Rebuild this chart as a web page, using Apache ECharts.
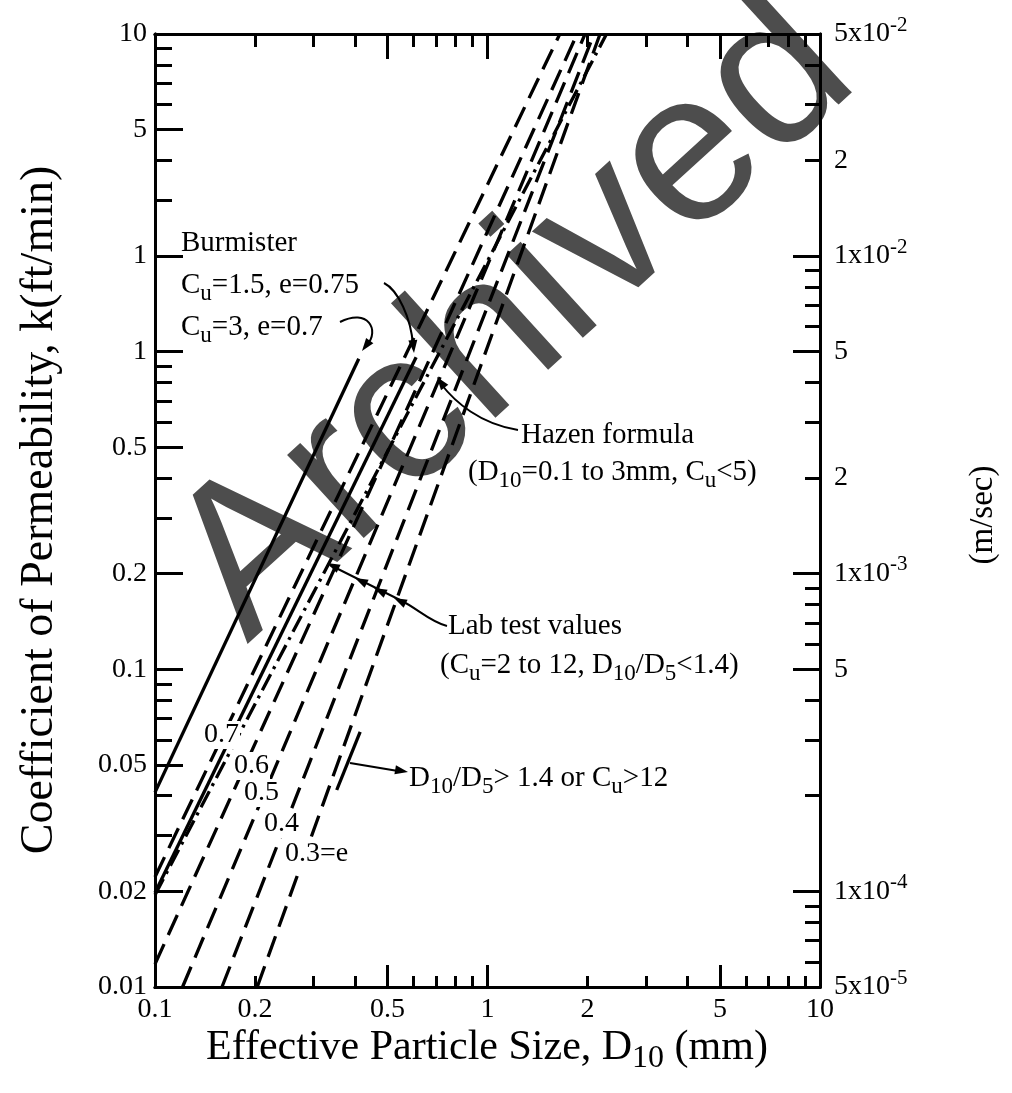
<!DOCTYPE html>
<html><head><meta charset="utf-8">
<script src="https://cdn.jsdelivr.net/npm/echarts@6/dist/echarts.min.js"></script>
<style>html,body{margin:0;padding:0;background:#fff}#c{width:1012px;height:1093px}</style>
</head><body><div id="c"></div>
<script>
// ---------- DATA ----------
const xTickValues = [0.1, 0.2, 0.5, 1, 2, 5, 10];
const xTickLabels = ['0.1', '0.2', '0.5', '1', '2', '5', '10'];
const xLongTicks = [0.5, 1, 5];
const xShortTicks = [0.2, 0.3, 0.4, 0.6, 0.7, 0.8, 0.9, 2, 3, 4, 6, 7, 8, 9];

const yTickValues = [0.01, 0.02, 0.05, 0.1, 0.2, 0.5, 1, 2, 5, 10];
const yTickLabels = ['0.01', '0.02', '0.05', '0.1', '0.2', '0.5', '1', '1', '5', '10'];
const yLongTicks = [0.02, 0.05, 0.1, 0.2, 0.5, 1, 2, 5];
const yShortTicks = [0.03, 0.04, 0.06, 0.07, 0.08, 0.09, 0.3, 0.4, 0.6, 0.7, 0.8, 0.9, 3, 4, 6, 7, 8, 9];

const rTickValues = [5e-5, 1e-4, 5e-4, 1e-3, 2e-3, 5e-3, 1e-2, 2e-2, 5e-2];
const rTickBase = ['5x10', '1x10', '5', '1x10', '2', '5', '1x10', '2', '5x10'];
const rTickExp = ['-5', '-4', '', '-3', '', '', '-2', '', '-2'];
const rLongTicks = [1e-4, 5e-4, 1e-3, 5e-3, 1e-2];
const rShortTicks = [6e-5, 7e-5, 8e-5, 9e-5, 2e-4, 3e-4, 4e-4, 6e-4, 7e-4, 8e-4, 9e-4,
  2e-3, 3e-3, 4e-3, 6e-3, 7e-3, 8e-3, 9e-3, 2e-2, 3e-2, 4e-2];

// lines: [D10 (mm), k (ft/min)]
const burmisterCu3 = [[0.1, 0.041], [0.41, 0.95]];
const burmisterCu15 = [[0.1, 0.0198], [0.61, 0.96]];
const hazen = [[0.1, 0.0195], [2.28, 10]];
const labE07 = [[0.1, 0.0222], [1.65, 10]];
const labE06 = [[0.1, 0.0118], [1.86, 10]];
const labE05 = [[0.121, 0.01], [1.965, 10]];
const labE04 = [[0.159, 0.01], [2.09, 10]];
const labE03 = [[0.203, 0.01], [2.18, 10]];
const d10d5Segment = [[0.352, 0.0417], [0.414, 0.0636]];

// ---------- CHART ----------
const SERIF = '"Liberation Serif", "DejaVu Serif", serif';
const chart = echarts.init(document.getElementById('c'), null, {renderer: 'canvas'});

function lookup(vals, labels) {
  return function (v) {
    for (let i = 0; i < vals.length; i++) {
      if (Math.abs(Math.log10(v) - Math.log10(vals[i])) < 1e-6) return labels[i];
    }
    return '';
  };
}
const xFmt = lookup(xTickValues, xTickLabels);
const yFmt = lookup(yTickValues, yTickLabels);
const rIdx = function (v) {
  for (let i = 0; i < rTickValues.length; i++) {
    if (Math.abs(Math.log10(v) - Math.log10(rTickValues[i])) < 1e-6) return i;
  }
  return -1;
};

function ax(kind, pos, ticks, len, extra) {
  const o = {
    type: 'log', logBase: 10, position: pos, gridIndex: 0,
    axisLine: {show: true, onZero: false, lineStyle: {color: '#000', width: 3}},
    axisTick: {show: true, inside: true, length: len, customValues: ticks, lineStyle: {color: '#000', width: 3}},
    axisLabel: {show: false},
    splitLine: {show: false},
    minorTick: {show: false},
    silent: true
  };
  if (kind === 'x') { o.min = 0.1; o.max = 10; }
  else if (kind === 'y') { o.min = 0.01; o.max = 10; }
  else { o.min = 5e-5; o.max = 5e-2; }
  return Object.assign(o, extra || {});
}

const labelFont = {fontFamily: SERIF, fontSize: 28, color: '#000'};

const xAxis = [
  ax('x', 'bottom', xLongTicks, 22, {axisLabel: Object.assign({show: true, customValues: xTickValues, formatter: xFmt, margin: 9}, labelFont)}),
  ax('x', 'top', xLongTicks, 25),
  ax('x', 'bottom', xShortTicks, 11),
  ax('x', 'top', xShortTicks, 13)
];
const yAxis = [
  ax('y', 'left', yLongTicks, 28, {axisLabel: Object.assign({show: true, customValues: yTickValues, formatter: yFmt, margin: 8}, labelFont)}),
  ax('r', 'right', rLongTicks, 27, {axisLabel: {
    show: true, customValues: rTickValues, margin: 14,
    formatter: function (v) {
      const i = rIdx(v);
      if (i < 0) return '';
      return rTickExp[i] ? '{b|' + rTickBase[i] + '}{s|' + rTickExp[i] + '}' : '{b|' + rTickBase[i] + '}';
    },
    rich: {
      b: {fontFamily: SERIF, fontSize: 28, color: '#000'},
      s: {fontFamily: SERIF, fontSize: 21, color: '#000', padding: [0, 0, 18, 0]}
    }
  }}),
  ax('y', 'left', yShortTicks, 17),
  ax('r', 'right', rShortTicks, 15)
];

function lineSeries(name, data, dash) {
  return {
    name: name, type: 'line', data: data, xAxisIndex: 0, yAxisIndex: 0,
    symbol: 'none', showSymbol: false, silent: true, animation: false, z: 3,
    lineStyle: {color: '#000', width: 3.3, type: dash, cap: 'butt'}
  };
}
const DASH = [22, 10];
const series = [
  lineSeries('Burmister Cu=3, e=0.7', burmisterCu3, 'solid'),
  lineSeries('Burmister Cu=1.5, e=0.75', burmisterCu15, 'solid'),
  lineSeries('Hazen formula', hazen, [18, 6, 3, 6]),
  lineSeries('e=0.7', labE07, DASH),
  lineSeries('e=0.6', labE06, DASH),
  lineSeries('e=0.5', labE05, DASH),
  lineSeries('e=0.4', labE04, DASH),
  lineSeries('e=0.3', labE03, DASH),
  lineSeries('D10/D5>1.4 or Cu>12', d10d5Segment, 'solid')
];

// ---------- ANNOTATIONS ----------
const RICH = {
  sub: {fontFamily: SERIF, fontSize: 23, padding: [18, 0, 0, 0], fill: '#000'}
};
function T(x, y, text, extra) {
  return {type: 'text', x: x, y: y, z: 10, silent: true,
    style: Object.assign({text: text, fill: '#000', fontSize: 29, fontFamily: SERIF,
      align: 'left', verticalAlign: 'middle', textAlign: 'left', textVerticalAlign: 'middle', rich: RICH}, extra || {})};
}
function L(x, y, text) {
  // small curve labels that knock out the line they sit on
  return T(x, y, text, {backgroundColor: '#fff', padding: [0, 1], fontSize: 28});
}
function head(x, y, ang, size, w) {
  size = size || 13; w = w || 4.5;
  const bx = x - size * Math.cos(ang), by = y - size * Math.sin(ang);
  const px = -Math.sin(ang) * w, py = Math.cos(ang) * w;
  return {type: 'polygon', z: 10, silent: true, shape: {points: [[x, y], [bx + px, by + py], [bx - px, by - py]]}, style: {fill: '#000'}};
}
function bez(x1, y1, c1x, c1y, c2x, c2y, x2, y2) {
  return {type: 'bezierCurve', z: 10, silent: true,
    shape: {x1: x1, y1: y1, cpx1: c1x, cpy1: c1y, cpx2: c2x, cpy2: c2y, x2: x2, y2: y2},
    style: {stroke: '#000', lineWidth: 2, fill: null}};
}
function seg(x1, y1, x2, y2) {
  return {type: 'line', z: 10, silent: true, shape: {x1: x1, y1: y1, x2: x2, y2: y2}, style: {stroke: '#000', lineWidth: 2}};
}

const graphic = [
  // watermark
  {type: 'text', x: 515, y: 320, rotation: 0.74, z: -10, silent: true,
    style: {text: 'Archived', fontFamily: '"Liberation Sans", Arial, sans-serif', fontSize: 214, fill: '#4d4d4d',
      align: 'center', verticalAlign: 'middle', textAlign: 'center', textVerticalAlign: 'middle'}},
  // axis titles
  {type: 'text', x: 40, y: 510, rotation: Math.PI / 2, z: 10, silent: true,
    style: {text: 'Coefficient of Permeability, k(ft/min)', fontFamily: SERIF, fontSize: 46, fill: '#000',
      align: 'center', verticalAlign: 'middle', textAlign: 'center', textVerticalAlign: 'middle'}},
  {type: 'text', x: 983, y: 515, rotation: Math.PI / 2, z: 10, silent: true,
    style: {text: '(m/sec)', fontFamily: SERIF, fontSize: 33, fill: '#000',
      align: 'center', verticalAlign: 'middle', textAlign: 'center', textVerticalAlign: 'middle'}},
  {type: 'text', x: 487, y: 1048, z: 10, silent: true,
    style: {text: 'Effective Particle Size, D{sub|10} (mm)', fontFamily: SERIF, fontSize: 42, fill: '#000',
      align: 'center', verticalAlign: 'middle', textAlign: 'center', textVerticalAlign: 'middle',
      rich: {sub: {fontFamily: SERIF, fontSize: 32, padding: [22, 0, 0, 0], fill: '#000'}}}},
  // annotation texts
  T(181, 243, 'Burmister'),
  T(181, 285, 'C{sub|u}=1.5, e=0.75'),
  T(181, 327, 'C{sub|u}=3, e=0.7'),
  T(521, 435, 'Hazen formula'),
  T(468, 472, '(D{sub|10}=0.1 to 3mm, C{sub|u}<5)'),
  T(448, 626, 'Lab test values'),
  T(440, 665, '(C{sub|u}=2 to 12, D{sub|10}/D{sub|5}<1.4)'),
  T(409, 778, 'D{sub|10}/D{sub|5}> 1.4 or C{sub|u}>12'),
  L(203, 735, '0.7'),
  L(233, 766, '0.6'),
  L(243, 793, '0.5'),
  L(263, 824, '0.4'),
  L(284, 854, '0.3=e'),
  // arrows
  bez(384, 283, 398, 290, 411, 318, 413, 345), head(414, 353, 1.48),
  bez(340, 322, 368, 308, 380, 330, 367, 345), head(362, 351, 2.21),
  bez(518, 430, 480, 424, 455, 402, 441, 384), head(437, 377, -2.2),
  bez(447, 626, 430, 622, 417, 608, 400, 600), seg(400, 600, 330, 565),
  head(394, 598, -2.68), head(374, 588, -2.68), head(355, 578, -2.68), head(327, 563, -2.68),
  seg(350, 763, 398, 771), head(408, 772, 0.17)
];

chart.setOption({
  animation: false,
  backgroundColor: '#fff',
  grid: {left: 155, right: 192, top: 34, bottom: 106, containLabel: false, outerBoundsMode: 'none'},
  xAxis: xAxis,
  yAxis: yAxis,
  series: series,
  graphic: graphic
});
</script>
</body></html>
